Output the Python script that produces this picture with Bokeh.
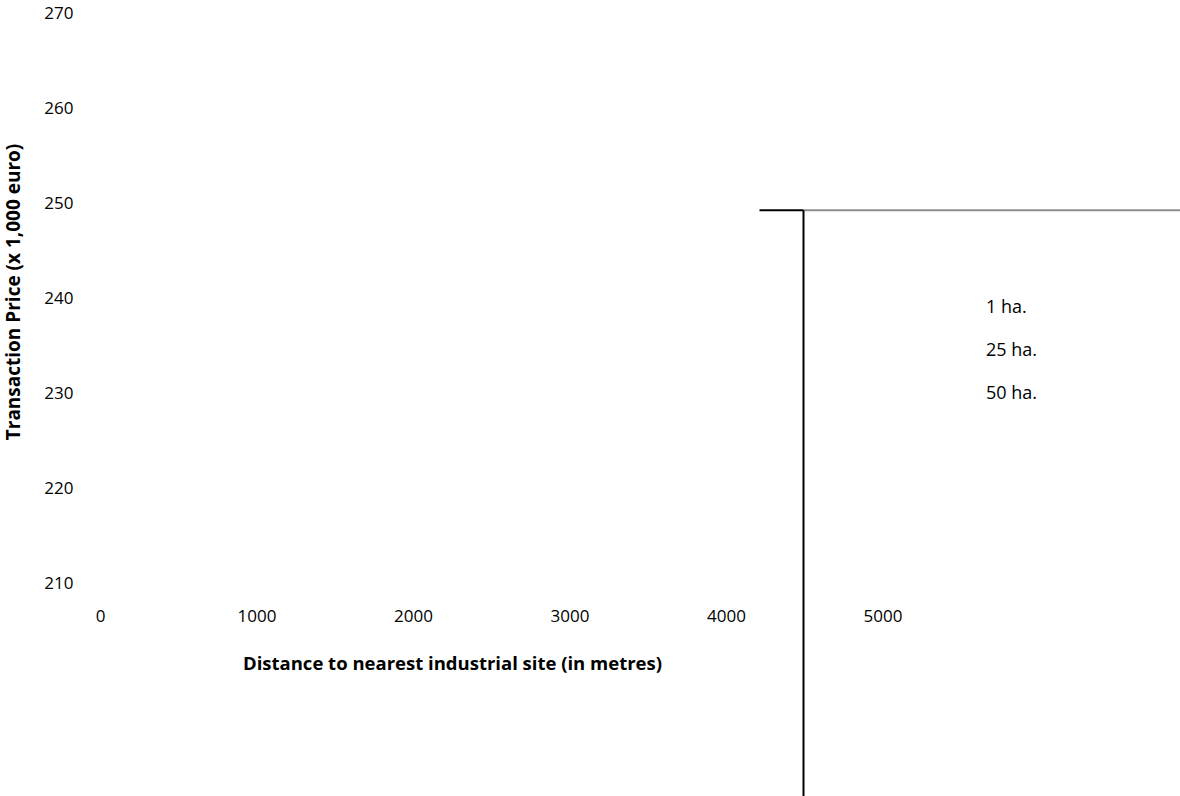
from bokeh.plotting import figure
from bokeh.models import LinearAxis, FixedTicker, Legend, LegendItem
from bokeh.embed import file_html
from bokeh.resources import INLINE

# ---- data ----
x_ticks = [0, 1000, 2000, 3000, 4000, 5000]
y_ticks = [210, 220, 230, 240, 250, 260, 270]
series_names = ["1 ha.", "25 ha.", "50 ha."]

# visible line pieces (distance in metres, price in 1,000 euro)
black_h_x = [4211, 4492]
black_h_y = [249.3, 249.3]
grey_h_x = [4492, 7000]
grey_h_y = [249.3, 249.3]
black_v_x = [4492, 4492]
black_v_y = [249.3, 185.0]

FONT = "Open Sans"
Y_TOP = 271.368
Y_BOTTOM = 187.579

p = figure(width=1180, height=796, x_range=(-639, 6901), y_range=(Y_BOTTOM, Y_TOP),
           output_backend="svg", toolbar_location=None,
           x_axis_location=None, y_axis_location=None,
           min_border=0, outline_line_color=None)
p.grid.visible = False
p.background_fill_color = "white"

# lines
p.line(grey_h_x, grey_h_y, line_color="#8c8c8c", line_width=2)
p.line(black_h_x, black_h_y, line_color="#000000", line_width=2)
p.line(black_v_x, black_v_y, line_color="#000000", line_width=2)

# axes drawn at fixed positions inside the canvas
yax = LinearAxis(fixed_location=-172.5, bounds=(210, Y_TOP),
                 ticker=FixedTicker(ticks=y_ticks),
                 axis_label="Transaction Price (x 1,000 euro)")
xax = LinearAxis(fixed_location=207.26, bounds=(-496, 5000),
                 ticker=FixedTicker(ticks=x_ticks),
                 axis_label="Distance to nearest industrial site (in metres)")
for ax in (yax, xax):
    ax.axis_line_color = None
    ax.major_tick_line_color = None
    ax.minor_tick_line_color = None
    ax.major_tick_out = 0
    ax.major_tick_in = 0
    ax.major_label_standoff = 0
    ax.major_label_text_font = FONT
    ax.major_label_text_font_size = "17px"
    ax.major_label_text_color = "#000000"
    ax.axis_label_text_font = FONT
    ax.axis_label_text_font_style = "bold"
    ax.axis_label_text_color = "#000000"
yax.axis_label_text_font_size = "19px"
xax.axis_label_text_font_size = "18.5px"
yax.axis_label_standoff = 15
xax.axis_label_standoff = 25
p.add_layout(yax, "left")
p.add_layout(xax, "below")

# legend (text only, as in the reference)
rends = [p.line([], [], line_alpha=0) for _ in series_names]
legend = Legend(items=[LegendItem(label=n, renderers=[r]) for n, r in zip(series_names, rends)],
                location=(986, 391), glyph_width=0, glyph_height=26, label_height=26,
                spacing=17, padding=0, margin=0, label_standoff=0,
                border_line_color=None, background_fill_alpha=0,
                label_text_font=FONT, label_text_font_size="18px", label_text_color="#000000")
p.add_layout(legend, "center")

open("out.html", "w").write(file_html(p, INLINE))
